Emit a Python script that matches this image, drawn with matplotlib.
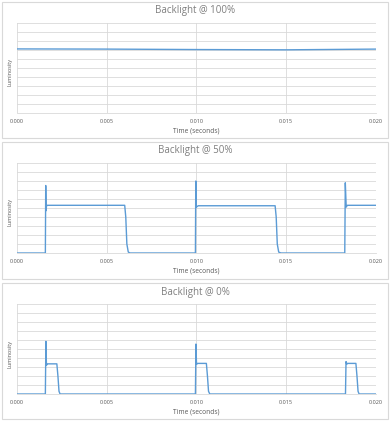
import matplotlib.pyplot as plt
from matplotlib.patches import Rectangle

# Luminosity traces (time in seconds, arbitrary units)
titles = ["Backlight @ 100%", "Backlight @ 50%", "Backlight @ 0%"]

t_100 = [0.0, 0.005, 0.010, 0.015, 0.020]
lum_100 = [7.12, 7.10, 7.05, 7.02, 7.10]

t_50 = [0.0, 0.00158, 0.00160, 0.00162, 0.00164, 0.00168, 0.00600, 0.00606,
        0.00612, 0.00620, 0.00630, 0.00994, 0.00996, 0.00999, 0.01010,
        0.01438, 0.01444, 0.01450, 0.01458, 0.01470, 0.01826, 0.01829,
        0.01834, 0.01840, 0.020]
lum_50 = [0.0, 0.0, 7.5, 4.7, 5.2, 5.3, 5.3, 4.0,
          1.0, 0.1, 0.0, 0.0, 8.0, 5.1, 5.25,
          5.25, 4.0, 1.0, 0.1, 0.0, 0.0, 7.8,
          5.1, 5.3, 5.3]

t_0 = [0.0, 0.00158, 0.00161, 0.00164, 0.00170, 0.00222, 0.00228, 0.00234,
       0.00240, 0.00994, 0.00997, 0.01000, 0.01006, 0.01055, 0.01061,
       0.01067, 0.01074, 0.01830, 0.01833, 0.01837, 0.01840, 0.01888,
       0.01894, 0.01900, 0.01906, 0.020]
lum_0 = [0.0, 0.0, 5.85, 3.2, 3.35, 3.35, 2.0, 0.3,
         0.0, 0.0, 5.55, 3.3, 3.4, 3.4, 2.0,
         0.3, 0.0, 0.0, 3.6, 3.3, 3.4, 3.4,
         2.0, 0.3, 0.0, 0.0]

series = [(t_100, lum_100), (t_50, lum_50), (t_0, lum_0)]
x_ticks = [0.0, 0.005, 0.010, 0.015, 0.020]

W, H = 390, 421
LINE = "#5B9BD5"
GRID = "#D9D9D9"
TEXT = "#595959"

plt.rcParams["font.family"] = ["Open Sans", "DejaVu Sans"]

fig = plt.figure(figsize=(W / 100, H / 100), dpi=100)

# panel frames (top, bottom in pixels)
panel_px = [(2, 138), (142, 279), (283, 419)]
for top, bot in panel_px:
    fig.patches.append(Rectangle((2 / W, 1 - bot / H), 386 / W, (bot - top) / H,
                                 transform=fig.transFigure, fill=False,
                                 edgecolor=GRID, linewidth=0.8))

for i, (title, (t, lum)) in enumerate(zip(titles, series)):
    top = panel_px[i][0]
    ax_top = top + 21
    ax_bot = top + 111
    ax = fig.add_axes([17 / W, 1 - ax_bot / H, 359 / W, (ax_bot - ax_top) / H])
    ax.plot(t, lum, color=LINE, linewidth=1.0)
    ax.set_xlim(0, 0.020)
    ax.set_ylim(0, 10)
    ax.set_xticks(x_ticks)
    ax.set_xticklabels([f"{v:.3f}" for v in x_ticks])
    ax.set_yticks(range(0, 11))
    ax.set_yticklabels([])
    ax.grid(True, color=GRID, linewidth=0.6)
    ax.set_axisbelow(True)
    for s in ["top", "right", "left"]:
        ax.spines[s].set_visible(False)
    ax.spines["bottom"].set_color(GRID)
    ax.spines["bottom"].set_linewidth(0.6)
    ax.tick_params(length=0, labelsize=4, labelcolor=TEXT, pad=4)
    ax.set_xlabel("Time (seconds)", fontsize=4.8, color=TEXT, labelpad=3)
    ax.set_ylabel("Luminosity", fontsize=4, color=TEXT)
    ax.yaxis.set_label_coords(-0.012, 0.45)
    fig.text(0.5, 1 - (top + 9) / H, title, ha="center", va="center",
             fontsize=7, color="#7F7F7F")

fig.savefig("out.png", dpi=100, facecolor="white")
